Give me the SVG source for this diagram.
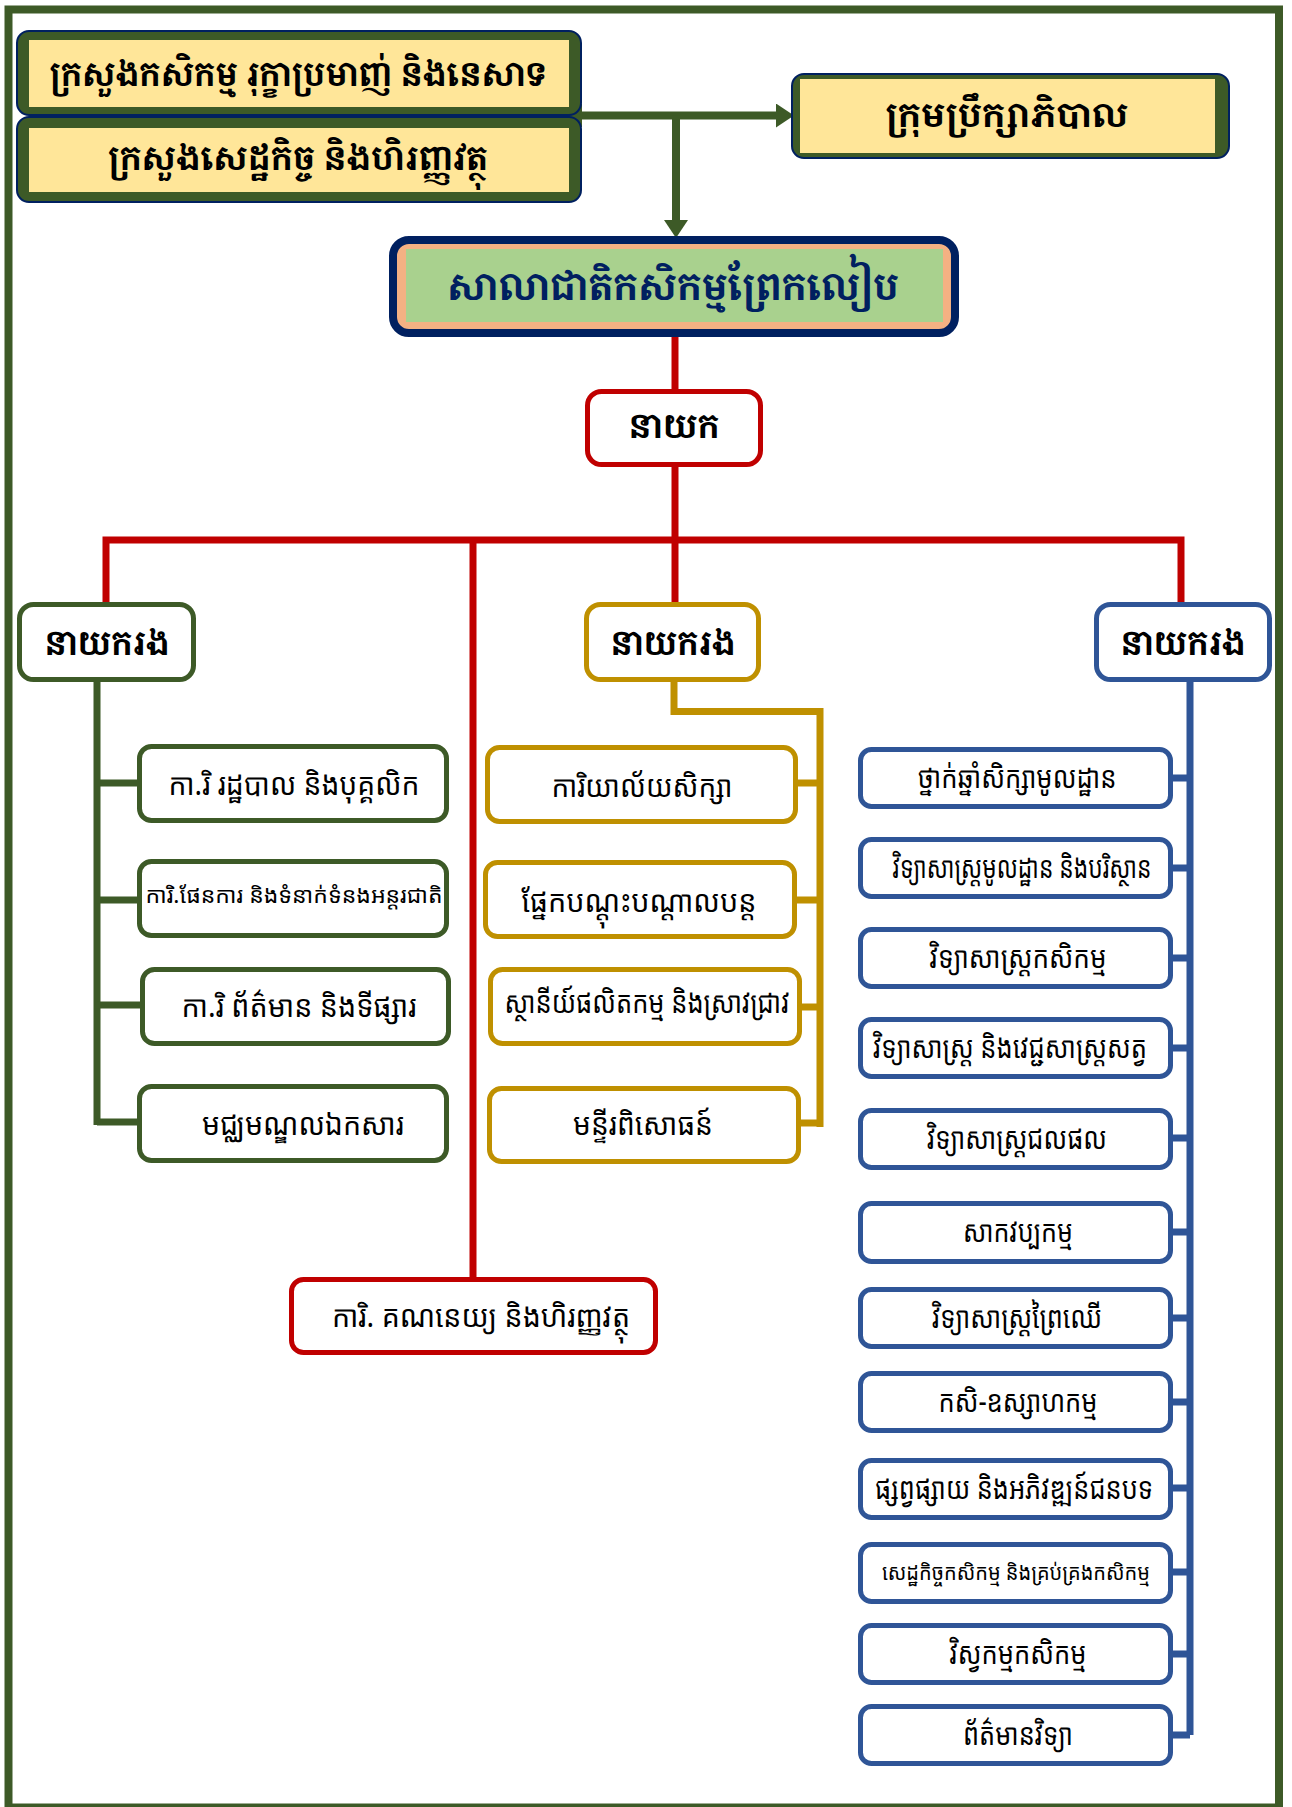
<svg xmlns="http://www.w3.org/2000/svg" width="1292" height="1807" viewBox="0 0 1292 1807">
<style>
.kh{font-family:"Khmer OS Battambang","Khmer OS","Noto Sans Khmer","Noto Serif Khmer","Khmer UI","Noto Sans",sans-serif;font-size:30px;fill:#000;text-anchor:middle}
.khb{font-family:"Khmer OS Muol Light","Khmer OS Muol","Noto Serif Khmer","Noto Sans Khmer","Noto Sans",sans-serif;font-weight:bold;font-size:34px;fill:#000;text-anchor:middle}
.sm{font-size:22px}
.g{fill:#fff;stroke:#3D5A27;stroke-width:5}
.y{fill:#fff;stroke:#BF9000;stroke-width:5}
.b{fill:#fff;stroke:#2F5597;stroke-width:5}
.r{fill:#fff;stroke:#C00000;stroke-width:5}
.cg{fill:none;stroke:#3D5A27;stroke-width:7}
.cy{fill:none;stroke:#BF9000;stroke-width:7}
.cb{fill:none;stroke:#2F5597;stroke-width:7}
.cr{fill:none;stroke:#C00000;stroke-width:7}
.ca{fill:none;stroke:#3D5A27;stroke-width:8}
.mo{fill:#3D5A27;stroke:#002060;stroke-width:2}
.mi{fill:#FFE699}
</style>
<defs>
<marker id="ah" markerUnits="userSpaceOnUse" markerWidth="18" markerHeight="24" refX="0" refY="12" orient="auto">
<path d="M0,0 L18,12 L0,24 Z" fill="#3D5A27"/>
</marker>
</defs>
<rect x="8.5" y="9.5" width="1270.5" height="1798" fill="none" stroke="#3D5A27" stroke-width="8"/>

<g id="connectors">
<path class="ca" d="M676,115.5 H582" marker-end="url(#ah)"/>
<path class="ca" d="M676,115.5 H776" marker-end="url(#ah)"/>
<path class="ca" d="M676,115.5 V220" marker-end="url(#ah)"/>
<path class="cr" d="M675,337 V389"/>
<path class="cr" d="M675,467 V602"/>
<path class="cr" d="M106,602 V540 H1181 V602"/>
<path class="cr" d="M473,540 V1277"/>
<path class="cg" d="M97,682 V1125"/>
<path class="cg" d="M97,783 H137 M97,900 H137 M97,1005 H140 M97,1122 H137"/>
<path class="cy" d="M674,682 V711.5 H820 V1127"/>
<path class="cy" d="M798,783 H820 M797,900 H820 M802,1007 H820 M801,1123 H820"/>
<path class="cb" d="M1190,682 V1735"/>
<path class="cb" d="M1173,778 H1190 M1173,868 H1190 M1173,958 H1190 M1173,1048 H1190 M1173,1138 H1190 M1173,1232 H1190 M1173,1318 H1190 M1173,1402 H1190 M1173,1488 H1190 M1173,1572 H1190 M1173,1654 H1190 M1173,1735 H1190"/>
</g>

<g id="ministry-agri">
<rect class="mo" x="17" y="31" width="564" height="84" rx="12"/>
<rect class="mi" x="29" y="40" width="540" height="67"/>
<text class="khb" x="298" y="86" textLength="497" lengthAdjust="spacingAndGlyphs">ក្រសួងកសិកម្ម រុក្ខាប្រមាញ់ និងនេសាទ</text>
</g>
<g id="ministry-econ">
<rect class="mo" x="17" y="117" width="564" height="85" rx="12"/>
<rect class="mi" x="29" y="128" width="540" height="64"/>
<text class="khb" x="298" y="170" textLength="380" lengthAdjust="spacingAndGlyphs">ក្រសួងសេដ្ឋកិច្ច និងហិរញ្ញវត្ថុ</text>
</g>
<g id="board">
<rect class="mo" x="792" y="74" width="437" height="84" rx="12"/>
<rect class="mi" x="800" y="79" width="415" height="74"/>
<text class="khb" x="1007" y="127" textLength="243" lengthAdjust="spacingAndGlyphs">ក្រុមប្រឹក្សាភិបាល</text>
</g>
<g id="school">
<rect x="393" y="240" width="562" height="93" rx="16" fill="#F4B183" stroke="#002060" stroke-width="8"/>
<rect x="406" y="249" width="537" height="73" fill="#A9D18E"/>
<text class="khb" x="673" y="300" font-size="38" fill="#002060" style="fill:#002060;font-size:38px" textLength="452" lengthAdjust="spacingAndGlyphs">សាលាជាតិកសិកម្មព្រែកលៀប</text>
</g>
<g id="director">
<rect class="r" x="587.5" y="391.5" width="173" height="73" rx="14"/>
<text class="khb" x="674" y="438" textLength="91" lengthAdjust="spacingAndGlyphs">នាយក</text>
</g>
<g id="deputy-green">
<rect class="g" x="19.5" y="604.5" width="174" height="75" rx="14"/>
<text class="khb" x="107" y="655" textLength="125" lengthAdjust="spacingAndGlyphs">នាយករង</text>
</g>
<g id="deputy-yellow">
<rect class="y" x="586.5" y="604.5" width="172" height="75" rx="14"/>
<text class="khb" x="673" y="655" textLength="125" lengthAdjust="spacingAndGlyphs">នាយករង</text>
</g>
<g id="deputy-blue">
<rect class="b" x="1096.5" y="604.5" width="173" height="75" rx="14"/>
<text class="khb" x="1183" y="655" textLength="125" lengthAdjust="spacingAndGlyphs">នាយករង</text>
</g>

<g id="g1"><rect class="g" x="139.5" y="746.5" width="307" height="74" rx="12"/><text class="kh" x="294" y="795" textLength="251" lengthAdjust="spacingAndGlyphs">កា.រិ រដ្ឋបាល និងបុគ្គលិក</text></g>
<g id="g2"><rect class="g" x="139.5" y="861.5" width="307" height="74" rx="12"/><text class="kh sm" x="294" y="903" textLength="297" lengthAdjust="spacingAndGlyphs">ការិ.ផែនការ និងទំនាក់ទំនងអន្តរជាតិ</text></g>
<g id="g3"><rect class="g" x="142.5" y="969.5" width="306" height="74" rx="12"/><text class="kh" x="299" y="1017" textLength="235" lengthAdjust="spacingAndGlyphs">កា.រិ ព័ត៌មាន និងទីផ្សារ</text></g>
<g id="g4"><rect class="g" x="139.5" y="1086.5" width="307" height="74" rx="12"/><text class="kh" x="303" y="1135" textLength="202" lengthAdjust="spacingAndGlyphs">មជ្ឈមណ្ឌលឯកសារ</text></g>

<g id="y1"><rect class="y" x="487.5" y="747.5" width="308" height="74" rx="12"/><text class="kh" x="642" y="797" textLength="181" lengthAdjust="spacingAndGlyphs">ការិយាល័យសិក្សា</text></g>
<g id="y2"><rect class="y" x="485.5" y="862.5" width="309" height="74" rx="12"/><text class="kh" x="639" y="912" textLength="235" lengthAdjust="spacingAndGlyphs">ផ្នែកបណ្តុះបណ្តាលបន្ត</text></g>
<g id="y3"><rect class="y" x="490.5" y="969.5" width="309" height="74" rx="12"/><text class="kh" x="647" y="1013" textLength="285" lengthAdjust="spacingAndGlyphs">ស្ថានីយ៍ផលិតកម្ម និងស្រាវជ្រាវ</text></g>
<g id="y4"><rect class="y" x="489.5" y="1088.5" width="309" height="73" rx="12"/><text class="kh" x="643" y="1135" textLength="140" lengthAdjust="spacingAndGlyphs">មន្ទីរពិសោធន៍</text></g>

<g id="b1"><rect class="b" x="860.5" y="749.5" width="310" height="57" rx="11"/><text class="kh" x="1017" y="788" textLength="199" lengthAdjust="spacingAndGlyphs">ថ្នាក់ឆ្នាំសិក្សាមូលដ្ឋាន</text></g>
<g id="b2"><rect class="b" x="860.5" y="839.5" width="310" height="57" rx="11"/><text class="kh" x="1022" y="878" textLength="259" lengthAdjust="spacingAndGlyphs">វិទ្យាសាស្ត្រមូលដ្ឋាន និងបរិស្ថាន</text></g>
<g id="b3"><rect class="b" x="860.5" y="929.5" width="310" height="57" rx="11"/><text class="kh" x="1018" y="968" textLength="177" lengthAdjust="spacingAndGlyphs">វិទ្យាសាស្ត្រកសិកម្ម</text></g>
<g id="b4"><rect class="b" x="860.5" y="1019.5" width="310" height="57" rx="11"/><text class="kh" x="1010" y="1058" textLength="274" lengthAdjust="spacingAndGlyphs">វិទ្យាសាស្ត្រ និងវេជ្ជសាស្ត្រសត្វ</text></g>
<g id="b5"><rect class="b" x="860.5" y="1110.5" width="310" height="57" rx="11"/><text class="kh" x="1017" y="1149" textLength="180" lengthAdjust="spacingAndGlyphs">វិទ្យាសាស្ត្រជលផល</text></g>
<g id="b6"><rect class="b" x="860.5" y="1203.5" width="310" height="58" rx="11"/><text class="kh" x="1018" y="1242" textLength="110" lengthAdjust="spacingAndGlyphs">សាកវប្បកម្ម</text></g>
<g id="b7"><rect class="b" x="860.5" y="1289.5" width="310" height="57" rx="11"/><text class="kh" x="1017" y="1328" textLength="170" lengthAdjust="spacingAndGlyphs">វិទ្យាសាស្ត្រព្រៃឈើ</text></g>
<g id="b8"><rect class="b" x="860.5" y="1373.5" width="310" height="57" rx="11"/><text class="kh" x="1018" y="1412" textLength="159" lengthAdjust="spacingAndGlyphs">កសិ-ឧស្សាហកម្ម</text></g>
<g id="b9"><rect class="b" x="860.5" y="1460.5" width="310" height="57" rx="11"/><text class="kh" x="1014" y="1499" textLength="278" lengthAdjust="spacingAndGlyphs">ផ្សព្វផ្សាយ និងអភិវឌ្ឍន៍ជនបទ</text></g>
<g id="b10"><rect class="b" x="860.5" y="1544.5" width="310" height="57" rx="11"/><text class="kh sm" x="1016" y="1580" textLength="268" lengthAdjust="spacingAndGlyphs">សេដ្ឋកិច្ចកសិកម្ម និងគ្រប់គ្រងកសិកម្ម</text></g>
<g id="b11"><rect class="b" x="860.5" y="1625.5" width="310" height="57" rx="11"/><text class="kh" x="1018" y="1664" textLength="137" lengthAdjust="spacingAndGlyphs">វិស្វកម្មកសិកម្ម</text></g>
<g id="b12"><rect class="b" x="860.5" y="1706.5" width="310" height="57" rx="11"/><text class="kh" x="1018" y="1745" textLength="110" lengthAdjust="spacingAndGlyphs">ព័ត៌មានវិទ្យា</text></g>

<g id="finance"><rect class="r" x="291.5" y="1279.5" width="364" height="73" rx="12"/><text class="kh" x="481" y="1327" textLength="298" lengthAdjust="spacingAndGlyphs">ការិ. គណនេយ្យ និងហិរញ្ញវត្ថុ</text></g>
</svg>
